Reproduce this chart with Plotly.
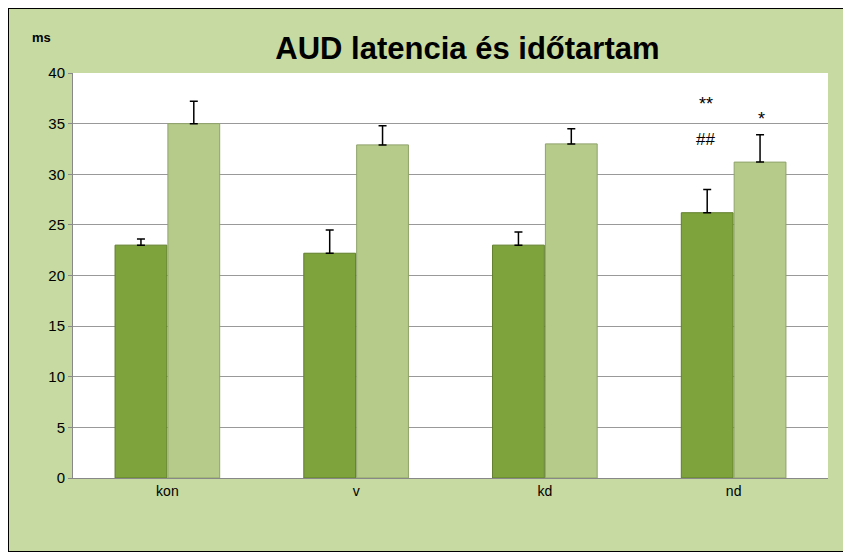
import plotly.graph_objects as go

categories = ["kon", "v", "kd", "nd"]
latency = [23.0, 22.2, 23.0, 26.2]
latency_err = [0.6, 2.3, 1.3, 2.3]
duration = [35.0, 32.9, 33.0, 31.2]
duration_err = [2.2, 1.9, 1.5, 2.7]
y_ticks = [0, 5, 10, 15, 20, 25, 30, 35, 40]

fig = go.Figure()
fig.add_trace(go.Bar(x=categories, y=latency, name="latencia",
    marker=dict(color="#7fa33c", line=dict(color="#5f7d2a", width=1)),
    error_y=dict(type="data", array=latency_err, arrayminus=[0]*4, color="black", thickness=1.5, width=4)))
fig.add_trace(go.Bar(x=categories, y=duration, name="időtartam",
    marker=dict(color="#b6ca8a", line=dict(color="#8fa36a", width=1)),
    error_y=dict(type="data", array=duration_err, arrayminus=[0]*4, color="black", thickness=1.5, width=4)))

fig.update_layout(
    width=843, height=544, barmode="group", bargap=0.44, bargroupgap=0.02,
    paper_bgcolor="#c6daa2", plot_bgcolor="white", showlegend=False,
    margin=dict(l=65, r=23, t=65, b=74),
    font=dict(family="Liberation Sans, Arial", color="black", size=14),
    title=dict(text="<b>AUD latencia és időtartam</b>", x=0.545, xanchor="center",
               y=1 - 40 / 544, yanchor="middle",
               font=dict(family="Liberation Sans, Arial", size=31)),
    xaxis=dict(showline=True, linecolor="#888", ticks="", tickfont=dict(size=14)),
    yaxis=dict(range=[0, 40], tickvals=y_ticks, showgrid=True, gridcolor="#999",
               showline=True, linecolor="#888", ticks="outside", ticklen=4, tickcolor="#888",
               tickfont=dict(size=15)),
    shapes=[dict(type="rect", xref="paper", yref="paper", x0=-65/755, y0=-74/405,
                 x1=1 + 23/755, y1=1 + 65/405, line=dict(color="black", width=2))],
    annotations=[
        dict(text="<b>ms</b>", xref="paper", yref="paper", x=-0.057, y=1.11, showarrow=False, font=dict(size=13)),
        dict(text="**", x=3, xshift=-28, y=36.9, xref="x", yref="y", showarrow=False, font=dict(size=18)),
        dict(text="##", x=3, xshift=-28, y=33.4, xref="x", yref="y", showarrow=False, font=dict(size=17)),
        dict(text="*", x=3, xshift=28, y=35.5, xref="x", yref="y", showarrow=False, font=dict(size=18)),
    ],
)
fig.write_html("out.html")
